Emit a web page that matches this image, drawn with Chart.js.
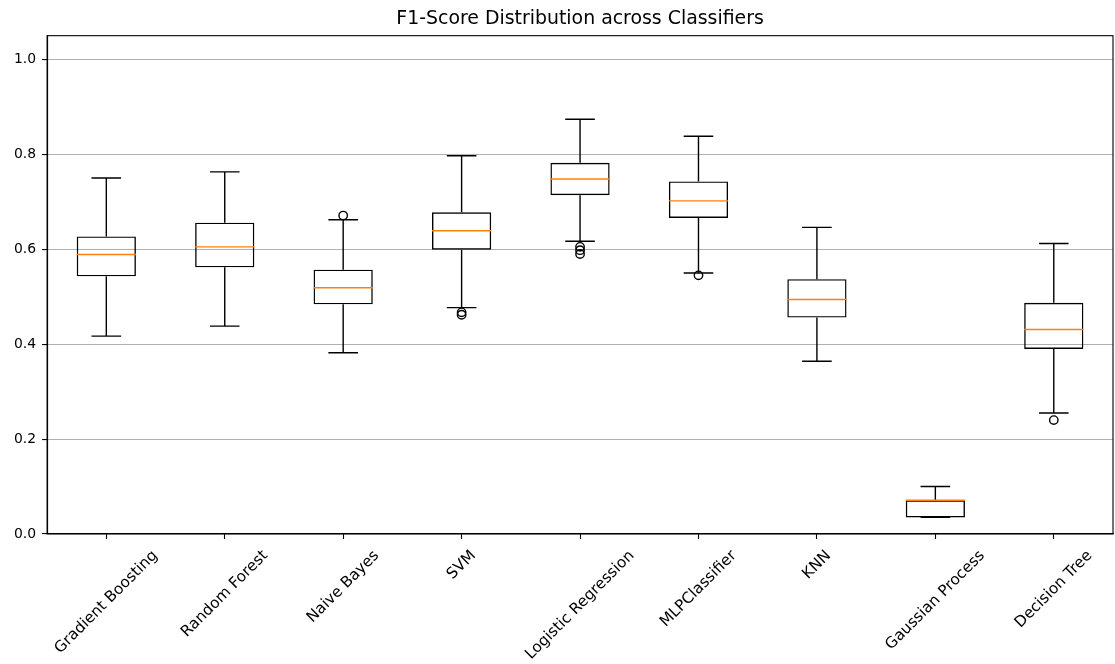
<!DOCTYPE html>
<html>
<head>
<meta charset="utf-8">
<script src="https://cdn.jsdelivr.net/npm/chart.js@4.4.1/dist/chart.umd.min.js"></script>
<style>
  body { margin: 0; background: #fff; }
  #wrap { width: 1115px; height: 664px; }
</style>
</head>
<body>
<div id="wrap"><canvas id="boxChart"></canvas></div>
<script>
const classifiers = ['Gradient Boosting', 'Random Forest', 'Naive Bayes', 'SVM', 'Logistic Regression', 'MLPClassifier', 'KNN', 'Gaussian Process', 'Decision Tree'];
const whiskerLow = [0.417, 0.438, 0.382, 0.477, 0.617, 0.550, 0.364, 0.035, 0.255];
const q1 = [0.543, 0.562, 0.484, 0.599, 0.714, 0.666, 0.456, 0.035, 0.390];
const medians = [0.589, 0.605, 0.519, 0.639, 0.748, 0.702, 0.494, 0.071, 0.431];
const q3 = [0.627, 0.656, 0.557, 0.678, 0.782, 0.743, 0.537, 0.071, 0.487];
const whiskerHigh = [0.750, 0.763, 0.662, 0.797, 0.874, 0.838, 0.646, 0.100, 0.612];
const outliers = [[], [], [0.671], [0.467, 0.462], [0.605, 0.598, 0.590], [0.545], [], [], [0.240]];
const yTicks = [0.0, 0.2, 0.4, 0.6, 0.8, 1.0];

const FONT = 'DejaVu Sans';

// whiskers, caps and medians, placed with the chart's scales
const whiskerPlugin = {
  id: 'whiskers',
  afterDatasetsDraw(chart) {
    const { ctx, scales: { x, y } } = chart;
    const step = x.getPixelForValue(1) - x.getPixelForValue(0);
    const capHalf = step * 0.125;
    const boxHalf = step * 0.25;
    ctx.save();
    classifiers.forEach((name, i) => {
      const cx = x.getPixelForValue(i);
      ctx.strokeStyle = '#000';
      ctx.lineWidth = 1.4;
      ctx.beginPath();
      ctx.moveTo(cx, y.getPixelForValue(q1[i]));
      ctx.lineTo(cx, y.getPixelForValue(whiskerLow[i]));
      ctx.moveTo(cx, y.getPixelForValue(q3[i]));
      ctx.lineTo(cx, y.getPixelForValue(whiskerHigh[i]));
      ctx.moveTo(cx - capHalf, y.getPixelForValue(whiskerLow[i]));
      ctx.lineTo(cx + capHalf, y.getPixelForValue(whiskerLow[i]));
      ctx.moveTo(cx - capHalf, y.getPixelForValue(whiskerHigh[i]));
      ctx.lineTo(cx + capHalf, y.getPixelForValue(whiskerHigh[i]));
      ctx.stroke();

      ctx.strokeStyle = '#ff7f0e';
      ctx.beginPath();
      ctx.moveTo(cx - boxHalf, y.getPixelForValue(medians[i]));
      ctx.lineTo(cx + boxHalf, y.getPixelForValue(medians[i]));
      ctx.stroke();
    });
    ctx.restore();
  }
};

// frame round the plot and the rotated, centred category labels
const framePlugin = {
  id: 'frame',
  afterDraw(chart) {
    const { ctx, chartArea: a, scales: { x } } = chart;
    ctx.save();
    ctx.strokeStyle = '#000';
    ctx.lineWidth = 1.1;
    ctx.strokeRect(a.left, a.top, a.right - a.left, a.bottom - a.top);

    const size = 15.3;
    ctx.font = size + 'px "' + FONT + '"';
    ctx.fillStyle = '#000';
    ctx.textAlign = 'center';
    ctx.textBaseline = 'middle';
    const h = size * 1.164;
    classifiers.forEach((name, i) => {
      const w = ctx.measureText(name).width;
      const boxH = (w + h) * Math.SQRT1_2;
      const cx = x.getPixelForValue(i);
      const cy = a.bottom + 13 + boxH / 2;
      ctx.save();
      ctx.translate(cx, cy);
      ctx.rotate(-Math.PI / 4);
      ctx.fillText(name, 0, 0);
      ctx.restore();
    });
    ctx.restore();
  }
};

const outlierPoints = [];
outliers.forEach((list, i) => {
  list.forEach(v => outlierPoints.push({ x: classifiers[i], y: v }));
});

new Chart(document.getElementById('boxChart').getContext('2d'), {
  type: 'bar',
  data: {
    labels: classifiers,
    datasets: [{
      label: 'IQR',
      data: classifiers.map((c, i) => [q1[i], q3[i]]),
      backgroundColor: 'rgba(0,0,0,0)',
      borderColor: '#000',
      borderWidth: 1.4,
      borderSkipped: false,
      barPercentage: 0.5,
      categoryPercentage: 1.0
    }, {
      type: 'line',
      label: 'Outliers',
      data: outlierPoints,
      showLine: false,
      pointRadius: 4.2,
      pointBorderWidth: 1.4,
      pointBorderColor: '#000',
      pointBackgroundColor: 'rgba(0,0,0,0)'
    }]
  },
  options: {
    responsive: true,
    maintainAspectRatio: false,
    animation: false,
    events: [],
    layout: { autoPadding: false, padding: { left: 8, right: 2, top: 0, bottom: 125 } },
    plugins: {
      legend: { display: false },
      tooltip: { enabled: false },
      title: {
        display: true,
        fullSize: false,
        text: 'F1-Score Distribution across Classifiers',
        color: '#000',
        font: { family: FONT, size: 18.9, weight: 'normal' },
        padding: { top: 8, bottom: 5 }
      }
    },
    scales: {
      x: {
        offset: true,
        ticks: { display: false },
        grid: { offset: false, drawOnChartArea: false, tickColor: '#000', tickLength: 5, tickWidth: 1.1 },
        border: { color: '#000', width: 1.1 }
      },
      y: {
        min: 0,
        max: 1.05,
        afterBuildTicks: scale => { scale.ticks = yTicks.map(v => ({ value: v })); },
        ticks: {
          padding: 6,
          color: '#000',
          font: { family: FONT, size: 13.9 },
          callback: v => v.toFixed(1)
        },
        grid: { color: '#b0b0b0', lineWidth: 1.1, tickColor: '#000', tickLength: 5, tickWidth: 1.1 },
        border: { color: '#000', width: 1.1 }
      }
    }
  },
  plugins: [whiskerPlugin, framePlugin]
});
</script>
</body>
</html>
